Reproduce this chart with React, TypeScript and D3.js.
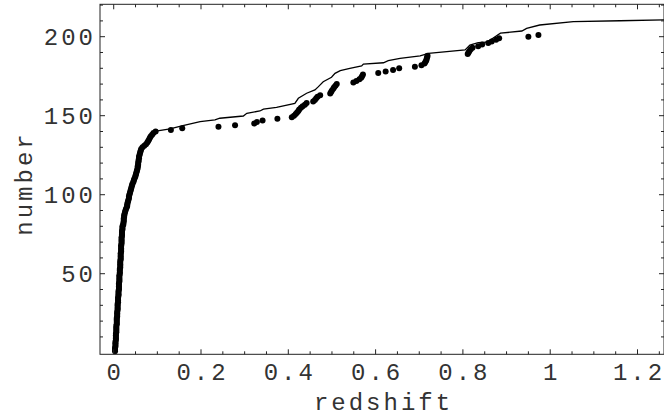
import React from "react";
import * as d3 from "d3";

// Dots: cumulative number (rank 1..201) vs sorted redshift
const dotRedshift: number[] = [
  0.003, 0.003, 0.003, 0.004, 0.004, 0.004, 0.004, 0.005, 0.005, 0.005,
  0.005, 0.005, 0.006, 0.006, 0.006, 0.006, 0.006, 0.007, 0.007, 0.007,
  0.007, 0.007, 0.008, 0.008, 0.008, 0.008, 0.009, 0.009, 0.009, 0.009,
  0.009, 0.010, 0.010, 0.010, 0.010, 0.011, 0.011, 0.011, 0.011, 0.012,
  0.012, 0.012, 0.012, 0.012, 0.013, 0.013, 0.013, 0.013, 0.013, 0.014,
  0.014, 0.014, 0.014, 0.015, 0.015, 0.015, 0.015, 0.015, 0.016, 0.016,
  0.016, 0.016, 0.016, 0.017, 0.017, 0.017, 0.017, 0.017, 0.018, 0.018,
  0.018, 0.018, 0.018, 0.019, 0.019, 0.019, 0.019, 0.020, 0.020, 0.020,
  0.022, 0.022, 0.023, 0.023, 0.023, 0.024, 0.024, 0.025, 0.026, 0.027,
  0.028, 0.030, 0.031, 0.031, 0.032, 0.033, 0.034, 0.035, 0.035, 0.036,
  0.037, 0.038, 0.039, 0.040, 0.041, 0.042, 0.043, 0.045, 0.046, 0.047,
  0.049, 0.050, 0.051, 0.052, 0.053, 0.054, 0.055, 0.055, 0.056, 0.056,
  0.057, 0.057, 0.058, 0.058, 0.059, 0.060, 0.061, 0.062, 0.063, 0.066,
  0.070, 0.074, 0.077, 0.079, 0.081, 0.083, 0.085, 0.088, 0.091, 0.096,
  0.131, 0.157, 0.240, 0.278, 0.322, 0.328, 0.341, 0.375, 0.408, 0.413,
  0.417, 0.420, 0.423, 0.425, 0.429, 0.433, 0.438, 0.442, 0.457, 0.461,
  0.464, 0.467, 0.473, 0.496, 0.498, 0.500, 0.503, 0.505, 0.508, 0.511,
  0.549, 0.556, 0.563, 0.567, 0.569, 0.571, 0.606, 0.623, 0.640, 0.654,
  0.690, 0.705, 0.712, 0.714, 0.716, 0.717, 0.718, 0.719, 0.811, 0.813,
  0.815, 0.818, 0.822, 0.835, 0.844, 0.858, 0.866, 0.876, 0.883, 0.950,
  0.973,
];

// Line: a second cumulative curve
const lineRedshift: number[] = [
  0.002, 0.005, 0.009, 0.013, 0.017, 0.020, 0.028, 0.036, 0.047, 0.056,
  0.063, 0.077, 0.088, 0.097, 0.129, 0.156, 0.198, 0.232, 0.243, 0.297,
  0.305, 0.335, 0.343, 0.373, 0.415, 0.423, 0.442, 0.461, 0.469, 0.480,
  0.499, 0.507, 0.519, 0.541, 0.568, 0.572, 0.618, 0.629, 0.656, 0.702,
  0.721, 0.805, 0.816, 0.835, 0.855, 0.886, 0.935, 0.946, 0.976, 1.053,
  1.160, 1.261,
];
const lineNumber: number[] = [
  0, 10, 30, 50, 70, 80, 91, 100, 110, 120,
  129, 133, 138, 140.3, 141.6, 143.5, 146.2, 147.3, 148.4, 149.8,
  151.5, 153, 154.2, 155.3, 157.8, 161, 164.2, 166.3, 168.4, 171.5,
  174.3, 176.8, 178.5, 180, 181.5, 182.7, 183.5, 184.8, 186.3, 187.8,
  189.5, 191.6, 194.7, 196.2, 196.5, 202.2, 203.6, 205.3, 207.4, 209.5,
  210.1, 210.6,
];

const xMajor: number[] = [0, 0.2, 0.4, 0.6, 0.8, 1, 1.2];
const xMajorLabels: string[] = ["0", "0.2", "0.4", "0.6", "0.8", "1", "1.2"];
const yMajor: number[] = [50, 100, 150, 200];
const yMajorLabels: string[] = ["50", "100", "150", "200"];
const xMinor: number[] = [0.05, 0.1, 0.15, 0.25, 0.3, 0.35, 0.45, 0.5, 0.55, 0.65, 0.7, 0.75, 0.85, 0.9, 0.95, 1.05, 1.1, 1.15, 1.25];
const yMinor: number[] = [10, 20, 30, 40, 60, 70, 80, 90, 110, 120, 130, 140, 160, 170, 180, 190, 210, 220];

const W = 664;
const H = 417;
const L = 100;
const R = 664;
const T = 4.3;
const B = 354.3;

export default function App() {
  const x = d3.scaleLinear().domain([-0.0314, 1.2607]).range([L, R]);
  const y = d3.scaleLinear().domain([-1.0, 220.5]).range([B, T]);
  const line = d3
    .line<number>()
    .x((_, i) => x(lineRedshift[i]))
    .y((_, i) => y(lineNumber[i]));
  const font = "'Liberation Mono', 'DejaVu Sans Mono', monospace";
  const stroke = "#222";
  const textFill = "#333";
  return (
    <svg
      width={W}
      height={H}
      style={{ position: "fixed", left: 0, top: 0, background: "#fff" }}
    >
      <rect x={0} y={0} width={W} height={H} fill="#fff" />
      <path d={line(lineNumber) || ""} fill="none" stroke="#000" strokeWidth={1.3} />
      {dotRedshift.map((z, i) => (
        <circle key={i} cx={x(z)} cy={y(i + 1)} r={3} fill="#000" />
      ))}
      <rect x={L} y={T} width={R - L} height={B - T} fill="none" stroke={stroke} strokeWidth={1} />
      {xMajor.map((v) => (
        <g key={"xM" + v}>
          <line x1={x(v)} x2={x(v)} y1={B} y2={B - 5} stroke={stroke} />
          <line x1={x(v)} x2={x(v)} y1={T} y2={T + 5} stroke={stroke} />
        </g>
      ))}
      {xMinor.map((v) => (
        <g key={"xm" + v}>
          <line x1={x(v)} x2={x(v)} y1={B} y2={B - 3} stroke={stroke} />
          <line x1={x(v)} x2={x(v)} y1={T} y2={T + 3} stroke={stroke} />
        </g>
      ))}
      {yMajor.map((v) => (
        <g key={"yM" + v}>
          <line x1={L} x2={L + 5} y1={y(v)} y2={y(v)} stroke={stroke} />
          <line x1={R} x2={R - 5} y1={y(v)} y2={y(v)} stroke={stroke} />
        </g>
      ))}
      {yMinor.map((v) => (
        <g key={"ym" + v}>
          <line x1={L} x2={L + 3} y1={y(v)} y2={y(v)} stroke={stroke} />
          <line x1={R} x2={R - 3} y1={y(v)} y2={y(v)} stroke={stroke} />
        </g>
      ))}
      {xMajor.map((v, i) => (
        <text
          key={"xl" + v}
          x={x(v) + 1.5}
          y={380}
          textAnchor="middle"
          fontFamily={font}
          fontSize={24}
          letterSpacing={3}
          fill={textFill}
        >
          {xMajorLabels[i]}
        </text>
      ))}
      {yMajor.map((v, i) => (
        <text
          key={"yl" + v}
          x={96}
          y={y(v) + 8}
          textAnchor="end"
          fontFamily={font}
          fontSize={24}
          letterSpacing={3}
          fill={textFill}
        >
          {yMajorLabels[i]}
        </text>
      ))}
      <text
        x={(L + R) / 2 + 1.5}
        y={410}
        textAnchor="middle"
        fontFamily={font}
        fontSize={24}
        letterSpacing={3}
        fill={textFill}
      >
        redshift
      </text>
      <text
        transform={`translate(31.5, ${182 + 1.5}) rotate(-90)`}
        textAnchor="middle"
        fontFamily={font}
        fontSize={24}
        letterSpacing={3}
        fill={textFill}
      >
        number
      </text>
    </svg>
  );
}
